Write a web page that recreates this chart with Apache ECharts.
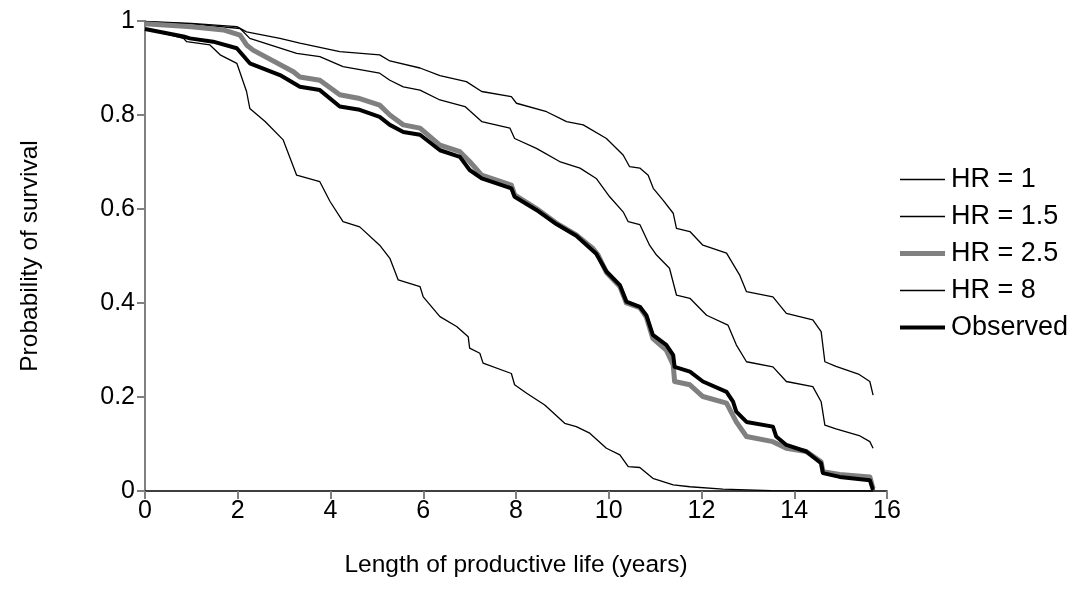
<!DOCTYPE html>
<html>
<head>
<meta charset="utf-8">
<script src="https://cdn.jsdelivr.net/npm/echarts@6/dist/echarts.min.js"></script>
<style>
  html, body { margin: 0; padding: 0; background: #ffffff; }
  #chart { width: 1080px; height: 609px; }
</style>
</head>
<body>
<div id="chart"></div>
<script>
// Survival curves: simulated hazard ratios vs observed productive life
const xTicks = [0, 2, 4, 6, 8, 10, 12, 14, 16];
const yTicks = [0, 0.2, 0.4, 0.6, 0.8, 1];

const hr1Years = [0, 1.0, 1.98, 2.19, 2.91, 3.34, 4.2, 5.06, 5.28, 5.93, 6.36, 6.93, 7.26, 7.9, 8.01, 8.66, 9.09, 9.45, 9.95, 10.31, 10.45, 10.67, 10.85, 10.96, 11.17, 11.39, 11.46, 11.75, 12.03, 12.54, 12.82, 12.97, 13.54, 13.83, 14.4, 14.58, 14.66, 14.9, 15.4, 15.63, 15.7];
const hr1Surv  = [0.999, 0.995, 0.988, 0.977, 0.963, 0.953, 0.935, 0.928, 0.915, 0.9, 0.884, 0.871, 0.85, 0.839, 0.825, 0.807, 0.786, 0.779, 0.75, 0.715, 0.69, 0.687, 0.672, 0.644, 0.619, 0.591, 0.559, 0.552, 0.523, 0.506, 0.46, 0.424, 0.413, 0.378, 0.364, 0.339, 0.275, 0.265, 0.248, 0.233, 0.204];

const hr15Years = [0, 1.0, 2.05, 2.26, 3.27, 3.77, 4.27, 5.06, 5.28, 5.57, 5.93, 6.36, 6.9, 7.26, 7.87, 7.97, 8.44, 8.94, 9.38, 9.73, 10.02, 10.31, 10.42, 10.67, 10.88, 11.03, 11.31, 11.46, 11.75, 12.11, 12.57, 12.75, 12.97, 13.54, 13.83, 14.4, 14.58, 14.66, 14.9, 15.4, 15.63, 15.7];
const hr15Surv  = [0.998, 0.994, 0.984, 0.963, 0.931, 0.924, 0.903, 0.889, 0.874, 0.86, 0.853, 0.832, 0.818, 0.786, 0.772, 0.75, 0.729, 0.701, 0.687, 0.665, 0.626, 0.594, 0.573, 0.567, 0.523, 0.502, 0.474, 0.417, 0.41, 0.374, 0.353, 0.311, 0.275, 0.264, 0.233, 0.222, 0.19, 0.14, 0.132, 0.118, 0.105, 0.091];

const hr25Years = [0, 1.0, 1.69, 2.05, 2.19, 2.33, 3.2, 3.34, 3.77, 4.2, 4.63, 5.06, 5.28, 5.57, 5.93, 6.36, 6.79, 7.0, 7.26, 7.9, 7.97, 8.44, 8.87, 9.3, 9.66, 9.77, 9.95, 10.24, 10.38, 10.67, 10.81, 10.95, 11.24, 11.39, 11.42, 11.75, 12.03, 12.54, 12.75, 12.97, 13.54, 13.83, 14.26, 14.58, 14.62, 14.98, 15.63, 15.7];
const hr25Surv  = [0.994, 0.988, 0.981, 0.97, 0.949, 0.938, 0.892, 0.881, 0.874, 0.843, 0.835, 0.821, 0.8, 0.779, 0.772, 0.736, 0.722, 0.701, 0.672, 0.651, 0.63, 0.601, 0.57, 0.545, 0.516, 0.502, 0.465, 0.435, 0.4, 0.39, 0.37, 0.325, 0.3, 0.268, 0.233, 0.226, 0.201, 0.187, 0.147, 0.116, 0.105, 0.091, 0.084, 0.062, 0.041, 0.035, 0.03, 0.005];

const hr8Years = [0, 0.83, 0.9, 1.4, 1.62, 1.98, 2.19, 2.26, 2.59, 2.98, 3.27, 3.77, 3.99, 4.27, 4.63, 5.06, 5.28, 5.46, 5.93, 6.0, 6.36, 6.72, 6.97, 7.0, 7.22, 7.29, 7.9, 7.97, 8.23, 8.62, 9.05, 9.3, 9.59, 9.95, 10.24, 10.42, 10.67, 10.95, 11.39, 11.75, 12.46, 13.5, 15.7];
const hr8Surv  = [0.984, 0.963, 0.956, 0.949, 0.928, 0.91, 0.85, 0.814, 0.786, 0.747, 0.672, 0.658, 0.616, 0.573, 0.562, 0.523, 0.495, 0.449, 0.435, 0.413, 0.371, 0.35, 0.328, 0.304, 0.293, 0.272, 0.25, 0.226, 0.208, 0.183, 0.144, 0.137, 0.123, 0.091, 0.077, 0.052, 0.05, 0.027, 0.013, 0.009, 0.004, 0.001, 0];

const obsYears = [0, 0.83, 0.97, 1.47, 1.98, 2.26, 2.91, 3.34, 3.77, 4.2, 4.63, 5.06, 5.28, 5.57, 5.93, 6.36, 6.79, 7.0, 7.26, 7.9, 7.97, 8.44, 8.87, 9.3, 9.73, 9.95, 10.24, 10.38, 10.67, 10.81, 10.95, 11.24, 11.39, 11.42, 11.75, 12.03, 12.54, 12.68, 12.75, 12.97, 13.54, 13.61, 13.83, 14.26, 14.58, 14.62, 14.98, 15.63, 15.7];
const obsSurv  = [0.983, 0.967, 0.963, 0.956, 0.942, 0.91, 0.885, 0.86, 0.853, 0.818, 0.811, 0.796, 0.779, 0.764, 0.758, 0.725, 0.711, 0.683, 0.665, 0.644, 0.626, 0.598, 0.568, 0.543, 0.505, 0.467, 0.438, 0.403, 0.392, 0.374, 0.332, 0.311, 0.289, 0.264, 0.254, 0.233, 0.211, 0.19, 0.169, 0.147, 0.137, 0.116, 0.098, 0.084, 0.059, 0.038, 0.03, 0.023, 0.002];

const seriesNames = ['HR = 1', 'HR = 1.5', 'HR = 2.5', 'HR = 8', 'Observed'];

function pairs(xs, ys) { return xs.map((x, i) => [x, ys[i]]); }

const FONT = 'Liberation Sans, Arial, sans-serif';
const thin = { color: '#000000', width: 1.3 };
const grayThick = { color: '#808080', width: 5 };
const blackThick = { color: '#000000', width: 4 };
const styles = [thin, thin, grayThick, thin, blackThick];

// Legend key: a horizontal bar of the series' line width, centred in a
// 45 x 14 box (empty sub-paths at top and bottom pin the bounding box).
const KEY_H = 14;
function keyIcon(w) {
  const a = (KEY_H - w) / 2, b = (KEY_H + w) / 2;
  return 'path://M0,0L45,0L45,0Z' +
         'M0,' + a + 'L45,' + a + 'L45,' + b + 'L0,' + b + 'Z' +
         'M0,' + KEY_H + 'L45,' + KEY_H + 'L45,' + KEY_H + 'Z';
}

const chart = echarts.init(document.getElementById('chart'), null, { renderer: 'canvas' });

function lineSeries(name, data, style, z) {
  return {
    name: name, type: 'line', data: data, symbol: 'none', showSymbol: false,
    smooth: false, animation: false, z: z, color: style.color,
    lineStyle: { color: style.color, width: style.width, cap: 'butt', join: 'round' },
    itemStyle: { color: style.color },
    emphasis: { disabled: true }
  };
}

chart.setOption({
  backgroundColor: '#ffffff',
  animation: false,
  textStyle: { fontFamily: FONT },
  grid: { left: 145, right: 193, top: 21, bottom: 118, containLabel: false },
  legend: {
    orient: 'vertical', left: 895, top: 161,
    itemWidth: 45, itemHeight: KEY_H, itemGap: 10,
    selectedMode: false,
    itemStyle: { borderWidth: 0 },
    textStyle: { fontFamily: FONT, fontSize: 27, color: '#000000', lineHeight: 27, padding: [0, 0, 0, 1] },
    data: seriesNames.map((n, i) => ({
      name: n,
      icon: keyIcon(styles[i].width),
      itemStyle: { color: styles[i].color, borderWidth: 0 }
    }))
  },
  xAxis: {
    type: 'value', min: xTicks[0], max: xTicks[xTicks.length - 1], interval: 2,
    name: 'Length of productive life (years)', nameLocation: 'middle', nameGap: 62,
    nameTextStyle: { fontFamily: FONT, fontSize: 24.5, color: '#000000' },
    axisLine: { show: true, onZero: false, lineStyle: { color: '#000000', width: 1.5 } },
    axisTick: { show: true, length: 8, inside: false, lineStyle: { color: '#808080', width: 2 } },
    axisLabel: { fontFamily: FONT, fontSize: 25, color: '#000000', margin: 8 },
    splitLine: { show: false }
  },
  yAxis: {
    type: 'value', min: yTicks[0], max: yTicks[yTicks.length - 1], interval: 0.2,
    name: 'Probability of survival', nameLocation: 'middle', nameGap: 102,
    nameTextStyle: { fontFamily: FONT, fontSize: 24.5, color: '#000000' },
    axisLine: { show: true, lineStyle: { color: '#808080', width: 2 } },
    axisTick: { show: true, length: 8, inside: false, lineStyle: { color: '#808080', width: 2 } },
    axisLabel: { fontFamily: FONT, fontSize: 25, color: '#000000', margin: 10,
      formatter: v => String(Math.round(v * 10) / 10) },
    splitLine: { show: false }
  },
  series: [
    lineSeries(seriesNames[0], pairs(hr1Years, hr1Surv), styles[0], 2),
    lineSeries(seriesNames[1], pairs(hr15Years, hr15Surv), styles[1], 2),
    lineSeries(seriesNames[2], pairs(hr25Years, hr25Surv), styles[2], 3),
    lineSeries(seriesNames[3], pairs(hr8Years, hr8Surv), styles[3], 2),
    lineSeries(seriesNames[4], pairs(obsYears, obsSurv), styles[4], 4)
  ]
});
</script>
</body>
</html>
